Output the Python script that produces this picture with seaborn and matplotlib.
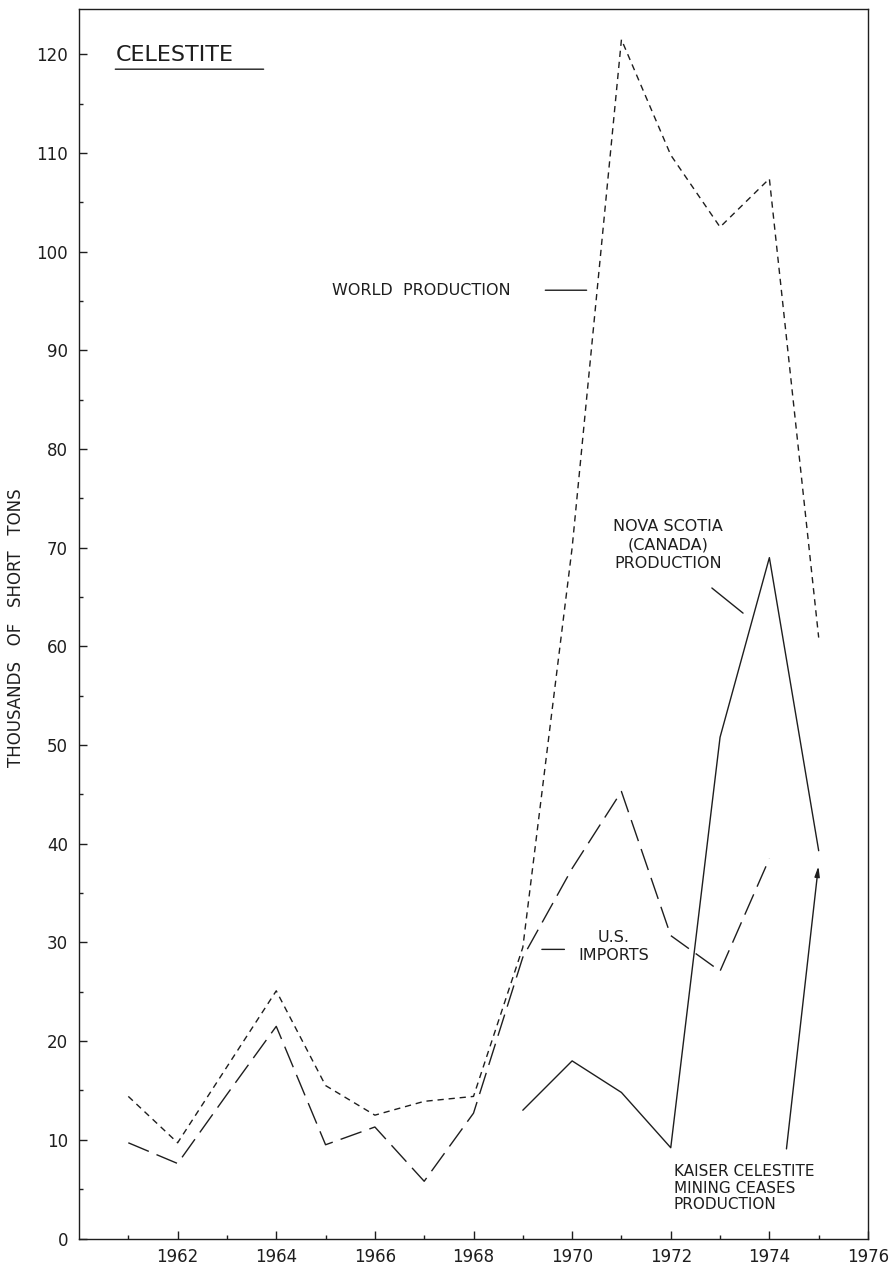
import pandas as pd
import matplotlib.pyplot as plt
import seaborn as sns

# values (thousands of short tons)
world_years = [1961, 1962, 1963, 1964, 1965, 1966, 1967, 1968, 1969, 1970, 1971, 1972, 1973, 1974, 1975]
world_prod = [14.4, 9.7, 17.4, 25.1, 15.5, 12.5, 13.9, 14.4, 29.5, 70.0, 121.5, 109.8, 102.5, 107.4, 60.9]

imports_years = [1961, 1962, 1963, 1964, 1965, 1966, 1967, 1968, 1969, 1970, 1971, 1972, 1973, 1974]
us_imports = [9.7, 7.6, 14.6, 21.5, 9.5, 11.3, 5.8, 12.7, 28.5, 37.5, 45.3, 30.7, 27.1, 38.5]

nova_years = [1969, 1970, 1971, 1972, 1973, 1974, 1975]
nova_prod = [13.0, 18.0, 14.8, 9.2, 50.8, 69.0, 39.3]

year_ticks = [1962, 1964, 1966, 1968, 1970, 1972, 1974, 1976]
minor_years = [1961, 1963, 1965, 1967, 1969, 1971, 1973, 1975]

df_world = pd.DataFrame({"Year": world_years, "Tons": world_prod})
df_us = pd.DataFrame({"Year": imports_years, "Tons": us_imports})
df_nova = pd.DataFrame({"Year": nova_years, "Tons": nova_prod})

sns.set_style("ticks")
plt.rcParams['font.family'] = ['DejaVu Sans']
plt.rcParams['lines.scale_dashes'] = False
ink = "#1e1e1e"

fig = plt.figure(figsize=(8.92, 12.65), dpi=100)
ax = fig.add_axes([79 / 892, 1 - 1238.5 / 1265, (868 - 79) / 892, (1238.5 - 9) / 1265])

sns.lineplot(data=df_world, x="Year", y="Tons", ax=ax, color=ink, lw=1.0,
             linestyle=(0, (4.5, 3.5)))
sns.lineplot(data=df_us, x="Year", y="Tons", ax=ax, color=ink, lw=1.0,
             linestyle=(0, (16, 6)))
sns.lineplot(data=df_nova, x="Year", y="Tons", ax=ax, color=ink, lw=1.0)

ax.set_xlim(1960, 1976)
ax.set_ylim(0, 124.6)
ax.set_xticks(year_ticks)
ax.set_xticks(minor_years, minor=True)
ax.set_yticks(range(0, 121, 10))
ax.set_yticks(range(5, 125, 10), minor=True)
ax.tick_params(axis="both", which="major", direction="in", length=6, width=1.0,
               labelsize=12, colors=ink)
ax.tick_params(axis="x", which="major", pad=7)
ax.tick_params(axis="y", which="major", pad=8)
ax.tick_params(axis="both", which="minor", direction="in", length=3, width=1.0, colors=ink)
for s in ax.spines.values():
    s.set_visible(True)
    s.set_linewidth(1.0)
    s.set_color(ink)

ax.set_xlabel("")
ax.set_ylabel("THOUSANDS   OF   SHORT   TONS", fontsize=12, color=ink)
ax.yaxis.set_label_coords(-0.069, 0.497)

# title, underlined
ax.text(1960.74, 119.9, "CELESTITE", fontsize=16, color=ink, ha="left", va="center")
ax.annotate("", xy=(1963.8, 118.5), xytext=(1960.68, 118.5),
            arrowprops=dict(arrowstyle="-", color=ink, lw=1.0))

# series labels and leader lines
lab = dict(fontsize=11.5, color=ink, linespacing=1.3)
ax.text(1966.95, 96.1, "WORLD  PRODUCTION", ha="center", va="center", **lab)
ax.annotate("", xy=(1970.35, 96.1), xytext=(1969.4, 96.1),
            arrowprops=dict(arrowstyle="-", color=ink, lw=1.0))

ax.text(1971.94, 70.3, "NOVA SCOTIA\n(CANADA)\nPRODUCTION", ha="center", va="center", **lab)
ax.annotate("", xy=(1973.51, 63.2), xytext=(1972.79, 66.1),
            arrowprops=dict(arrowstyle="-", color=ink, lw=1.0))

ax.text(1970.84, 29.6, "U.S.\nIMPORTS", ha="center", va="center", **lab)
ax.annotate("", xy=(1969.9, 29.3), xytext=(1969.33, 29.3),
            arrowprops=dict(arrowstyle="-", color=ink, lw=1.0))

ax.text(1972.06, 5.1, "KAISER CELESTITE\nMINING CEASES\nPRODUCTION", ha="left", va="center",
        fontsize=11, color=ink, linespacing=1.15)
ax.annotate("", xy=(1975.0, 38.0), xytext=(1974.34, 8.8),
            arrowprops=dict(arrowstyle="-|>,head_length=0.6,head_width=0.15", color=ink, lw=1.0))

plt.savefig("out.png", dpi=100)
plt.close()
